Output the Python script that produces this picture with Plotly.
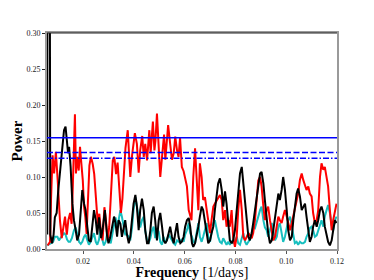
import plotly.graph_objects as go

# ---- data ----
freq_black = [0.0059, 0.0060, 0.0068, 0.0071, 0.0078, 0.0084, 0.0089, 0.0096, 0.0102, 0.0109,
              0.0117, 0.0125, 0.0131, 0.0137, 0.0141, 0.0145, 0.0151, 0.0158, 0.0164, 0.0171,
              0.0177, 0.0184, 0.0191, 0.0197, 0.0204, 0.0210, 0.0217, 0.0223, 0.0230, 0.0236,
              0.0243, 0.0250, 0.0256, 0.0263, 0.0271, 0.0278, 0.0286, 0.0294, 0.0300, 0.0306,
              0.0314, 0.0322, 0.0328, 0.0334, 0.0340, 0.0347, 0.0353, 0.0360, 0.0366, 0.0373,
              0.0380, 0.0386, 0.0393, 0.0399, 0.0406, 0.0412, 0.0419, 0.0425, 0.0432, 0.0439,
              0.0445, 0.0452, 0.0458, 0.0465, 0.0471, 0.0478, 0.0484, 0.0491, 0.0498, 0.0504,
              0.0511, 0.0517, 0.0524, 0.0530, 0.0537, 0.0543, 0.0550, 0.0557, 0.0563, 0.0570,
              0.0576, 0.0583, 0.0589, 0.0596, 0.0602, 0.0609, 0.0616, 0.0622, 0.0629, 0.0634,
              0.0641, 0.0647, 0.0654, 0.0660, 0.0667, 0.0673, 0.0680, 0.0687, 0.0693, 0.0700,
              0.0706, 0.0713, 0.0719, 0.0726, 0.0732, 0.0739, 0.0746, 0.0752, 0.0759, 0.0765,
              0.0772, 0.0778, 0.0785, 0.0791, 0.0798, 0.0805, 0.0811, 0.0818, 0.0825, 0.0831,
              0.0838, 0.0844, 0.0851, 0.0857, 0.0864, 0.0870, 0.0877, 0.0884, 0.0890, 0.0897,
              0.0903, 0.0910, 0.0916, 0.0923, 0.0929, 0.0936, 0.0943, 0.0949, 0.0956, 0.0963,
              0.0969, 0.0975, 0.0982, 0.0988, 0.0995, 0.1002, 0.1008, 0.1015, 0.1022, 0.1028,
              0.1034, 0.1041, 0.1047, 0.1054, 0.1061, 0.1067, 0.1074, 0.1080, 0.1087, 0.1093,
              0.1100, 0.1106, 0.1113, 0.1120, 0.1126, 0.1133, 0.1139, 0.1146, 0.1152, 0.1159,
              0.1165, 0.1172, 0.1179, 0.1185, 0.1192, 0.1198]
power_black = [0.02, 0.60, 0.60, 0.02, 0.008, 0.02, 0.044, 0.05, 0.08, 0.105,
               0.137, 0.165, 0.17, 0.15, 0.133, 0.142, 0.114, 0.063, 0.04, 0.026,
               0.012, 0.02, 0.054, 0.082, 0.063, 0.054, 0.03, 0.012, 0.01, 0.031,
               0.054, 0.04, 0.02, 0.044, 0.015, 0.03, 0.054, 0.02, 0.008, 0.015,
               0.03, 0.045, 0.036, 0.017, 0.04, 0.035, 0.017, 0.031, 0.04, 0.02,
               0.008, 0.017, 0.04, 0.063, 0.075, 0.059, 0.026, 0.054, 0.07, 0.054,
               0.026, 0.008, 0.008, 0.026, 0.05, 0.059, 0.04, 0.012, 0.04, 0.05,
               0.031, 0.012, 0.008, 0.012, 0.022, 0.031, 0.017, 0.008, 0.022, 0.036,
               0.017, 0.008, 0.01, 0.017, 0.031, 0.04, 0.043, 0.031, 0.008, 0.003,
               0.008, 0.017, 0.031, 0.045, 0.059, 0.054, 0.04, 0.022, 0.008, 0.012,
               0.022, 0.031, 0.054, 0.073, 0.091, 0.098, 0.082, 0.059, 0.08, 0.063,
               0.036, 0.012, 0.008, 0.012, 0.026, 0.054, 0.082, 0.105, 0.114, 0.091,
               0.059, 0.036, 0.017, 0.012, 0.022, 0.036, 0.054, 0.073, 0.091, 0.105,
               0.107, 0.091, 0.068, 0.04, 0.022, 0.008, 0.012, 0.026, 0.045, 0.063,
               0.077, 0.068, 0.082, 0.10, 0.082, 0.054, 0.026, 0.012, 0.017, 0.04,
               0.059, 0.077, 0.084, 0.073, 0.054, 0.059, 0.063, 0.045, 0.022, 0.01,
               0.017, 0.031, 0.04, 0.031, 0.04, 0.054, 0.059, 0.05, 0.031, 0.017,
               0.01, 0.005, 0.012, 0.026, 0.04, 0.036]

freq_red = [0.0060, 0.0070, 0.0074, 0.0080, 0.0086, 0.0093, 0.0101, 0.0109, 0.0116, 0.0122,
            0.0129, 0.0136, 0.0142, 0.0149, 0.0155, 0.0159, 0.0164, 0.0168, 0.0172, 0.0177,
            0.0183, 0.0188, 0.0193, 0.0199, 0.0204, 0.0209, 0.0214, 0.0218, 0.0225, 0.0231,
            0.0238, 0.0244, 0.0251, 0.0258, 0.0264, 0.0271, 0.0277, 0.0284, 0.0290, 0.0297,
            0.0303, 0.0310, 0.0317, 0.0323, 0.0330, 0.0336, 0.0341, 0.0349, 0.0355, 0.0361,
            0.0367, 0.0376, 0.0380, 0.0386, 0.0393, 0.0399, 0.0404, 0.0412, 0.0419, 0.0425,
            0.0433, 0.0439, 0.0445, 0.0452, 0.0461, 0.0466, 0.0475, 0.0481, 0.0485, 0.0491,
            0.0498, 0.0504, 0.0511, 0.0519, 0.0524, 0.0530, 0.0535, 0.0543, 0.0550, 0.0557,
            0.0563, 0.0570, 0.0576, 0.0582, 0.0589, 0.0596, 0.0602, 0.0609, 0.0616, 0.0622,
            0.0627, 0.0634, 0.0641, 0.0647, 0.0654, 0.0660, 0.0667, 0.0673, 0.0680, 0.0687,
            0.0693, 0.0700, 0.0706, 0.0713, 0.0719, 0.0726, 0.0732, 0.0739, 0.0746, 0.0752,
            0.0759, 0.0765, 0.0772, 0.0778, 0.0785, 0.0791, 0.0798, 0.0805, 0.0811, 0.0818,
            0.0825, 0.0831, 0.0838, 0.0844, 0.0851, 0.0857, 0.0864, 0.0870, 0.0877, 0.0884,
            0.0890, 0.0897, 0.0903, 0.0910, 0.0916, 0.0923, 0.0929, 0.0936, 0.0943, 0.0949,
            0.0956, 0.0963, 0.0969, 0.0975, 0.0982, 0.0988, 0.0995, 0.1002, 0.1008, 0.1015,
            0.1022, 0.1028, 0.1034, 0.1041, 0.1047, 0.1054, 0.1061, 0.1067, 0.1074, 0.1080,
            0.1087, 0.1093, 0.1100, 0.1106, 0.1113, 0.1120, 0.1126, 0.1133, 0.1139, 0.1146,
            0.1152, 0.1159, 0.1165, 0.1172, 0.1179, 0.1185, 0.1192, 0.1198]
power_red = [0.005, 0.01, 0.07, 0.13, 0.105, 0.135, 0.09, 0.04, 0.015, 0.03,
             0.045, 0.02, 0.04, 0.05, 0.035, 0.08, 0.16, 0.187, 0.105, 0.128,
             0.109, 0.142, 0.12, 0.095, 0.058, 0.044, 0.021, 0.058, 0.116, 0.128,
             0.118, 0.104, 0.072, 0.035, 0.049, 0.021, 0.012, 0.058, 0.04, 0.012,
             0.031, 0.081, 0.123, 0.128, 0.104, 0.12, 0.09, 0.05, 0.07, 0.10,
             0.14, 0.165, 0.132, 0.10, 0.13, 0.15, 0.161, 0.146, 0.106, 0.137,
             0.157, 0.128, 0.146, 0.123, 0.165, 0.133, 0.177, 0.137, 0.15, 0.188,
             0.133, 0.10, 0.128, 0.159, 0.124, 0.146, 0.172, 0.146, 0.124, 0.133,
             0.156, 0.137, 0.128, 0.154, 0.114, 0.108, 0.098, 0.087, 0.054, 0.045,
             0.04, 0.10, 0.14, 0.10, 0.054, 0.119, 0.10, 0.068, 0.072, 0.054,
             0.036, 0.022, 0.04, 0.059, 0.063, 0.068, 0.07, 0.075, 0.068, 0.04,
             0.054, 0.031, 0.04, 0.031, 0.054, 0.017, 0.003, 0.017, 0.054, 0.082,
             0.054, 0.017, 0.012, 0.017, 0.022, 0.019, 0.015, 0.022, 0.04, 0.07,
             0.095, 0.10, 0.087, 0.059, 0.04, 0.054, 0.059, 0.04, 0.022, 0.012,
             0.017, 0.031, 0.045, 0.04, 0.036, 0.045, 0.054, 0.045, 0.036, 0.026,
             0.036, 0.045, 0.054, 0.068, 0.077, 0.096, 0.105, 0.096, 0.087, 0.082,
             0.087, 0.077, 0.073, 0.05, 0.036, 0.04, 0.054, 0.10, 0.119, 0.11,
             0.114, 0.10, 0.087, 0.054, 0.026, 0.04, 0.054, 0.063]

freq_cyan = [0.0059, 0.0066, 0.0074, 0.0082, 0.0089, 0.0099, 0.0105, 0.0111, 0.0118, 0.0125,
             0.0131, 0.0137, 0.0143, 0.0149, 0.0156, 0.0164, 0.0171, 0.0177, 0.0184, 0.0191,
             0.0197, 0.0204, 0.0210, 0.0217, 0.0223, 0.0230, 0.0236, 0.0243, 0.0250, 0.0256,
             0.0263, 0.0269, 0.0276, 0.0282, 0.0289, 0.0295, 0.0302, 0.0309, 0.0315, 0.0322,
             0.0328, 0.0335, 0.0341, 0.0347, 0.0353, 0.0360, 0.0366, 0.0373, 0.0380, 0.0386,
             0.0393, 0.0399, 0.0406, 0.0412, 0.0419, 0.0425, 0.0432, 0.0439, 0.0445, 0.0452,
             0.0458, 0.0465, 0.0471, 0.0478, 0.0484, 0.0491, 0.0498, 0.0504, 0.0511, 0.0517,
             0.0524, 0.0530, 0.0537, 0.0543, 0.0550, 0.0557, 0.0563, 0.0570, 0.0576, 0.0583,
             0.0589, 0.0596, 0.0602, 0.0609, 0.0616, 0.0622, 0.0629, 0.0634, 0.0641, 0.0647,
             0.0654, 0.0660, 0.0667, 0.0673, 0.0680, 0.0687, 0.0693, 0.0700, 0.0706, 0.0713,
             0.0719, 0.0726, 0.0732, 0.0739, 0.0746, 0.0752, 0.0759, 0.0765, 0.0772, 0.0778,
             0.0785, 0.0791, 0.0798, 0.0805, 0.0811, 0.0818, 0.0825, 0.0831, 0.0838, 0.0844,
             0.0851, 0.0857, 0.0864, 0.0870, 0.0877, 0.0884, 0.0890, 0.0897, 0.0903, 0.0910,
             0.0916, 0.0923, 0.0929, 0.0936, 0.0943, 0.0949, 0.0956, 0.0963, 0.0969, 0.0975,
             0.0982, 0.0988, 0.0995, 0.1002, 0.1008, 0.1015, 0.1022, 0.1028, 0.1034, 0.1041,
             0.1047, 0.1054, 0.1061, 0.1067, 0.1074, 0.1080, 0.1087, 0.1093, 0.1100, 0.1106,
             0.1113, 0.1120, 0.1126, 0.1133, 0.1139, 0.1146, 0.1152, 0.1159, 0.1165, 0.1172,
             0.1179, 0.1185, 0.1192, 0.1198]
power_cyan = [0.005, 0.006, 0.008, 0.01, 0.017, 0.017, 0.012, 0.015, 0.019, 0.022,
              0.02, 0.013, 0.01, 0.01, 0.015, 0.026, 0.03, 0.022, 0.01, 0.007,
              0.01, 0.017, 0.02, 0.012, 0.006, 0.01, 0.017, 0.022, 0.01, 0.006,
              0.013, 0.03, 0.013, 0.005, 0.01, 0.022, 0.013, 0.008, 0.02, 0.035,
              0.044, 0.03, 0.045, 0.054, 0.045, 0.03, 0.02, 0.02, 0.017, 0.012,
              0.03, 0.055, 0.072, 0.06, 0.04, 0.03, 0.04, 0.045, 0.025, 0.012,
              0.008, 0.015, 0.025, 0.031, 0.015, 0.029, 0.024, 0.01, 0.006, 0.017,
              0.01, 0.012, 0.02, 0.017, 0.012, 0.008, 0.006, 0.012, 0.01, 0.01,
              0.014, 0.01, 0.02, 0.026, 0.036, 0.022, 0.017, 0.01, 0.008, 0.022,
              0.036, 0.017, 0.01, 0.017, 0.026, 0.036, 0.017, 0.01, 0.022, 0.036,
              0.04, 0.026, 0.017, 0.01, 0.008, 0.015, 0.01, 0.006, 0.01, 0.006,
              0.01, 0.008, 0.01, 0.017, 0.008, 0.006, 0.015, 0.022, 0.01, 0.006,
              0.01, 0.013, 0.022, 0.031, 0.029, 0.036, 0.045, 0.054, 0.059, 0.04,
              0.03, 0.026, 0.017, 0.026, 0.036, 0.026, 0.012, 0.017, 0.031, 0.036,
              0.022, 0.01, 0.017, 0.031, 0.04, 0.045, 0.031, 0.017, 0.008, 0.01,
              0.006, 0.01, 0.008, 0.008, 0.01, 0.017, 0.022, 0.029, 0.031, 0.026,
              0.017, 0.019, 0.026, 0.036, 0.04, 0.031, 0.045, 0.054, 0.061, 0.05,
              0.033, 0.026, 0.04, 0.045]

threshold_solid = 0.1546
threshold_dash = 0.134
threshold_dashdot = 0.126

x_ticks = [0.02, 0.04, 0.06, 0.08, 0.10, 0.12]
y_ticks = [0.00, 0.05, 0.10, 0.15, 0.20, 0.25, 0.30]
x_range = [0.0058, 0.12]
y_range = [0.0, 0.30]

SERIF = "Liberation Serif, DejaVu Serif, serif"

fig = go.Figure()
fig.add_trace(go.Scatter(x=freq_cyan, y=power_cyan, mode="lines",
                         line=dict(color="#17bfbf", width=2)))
fig.add_trace(go.Scatter(x=freq_red, y=power_red, mode="lines",
                         line=dict(color="#ff0000", width=2)))
fig.add_trace(go.Scatter(x=freq_black, y=power_black, mode="lines",
                         line=dict(color="#000000", width=2)))

for val, dash in [(threshold_solid, "solid"), (threshold_dash, "6px,2.5px"),
                  (threshold_dashdot, "6px,2px,1.5px,2px")]:
    fig.add_shape(type="line", xref="paper", yref="y", x0=0, x1=1, y0=val, y1=val,
                  line=dict(color="#0000ff", width=1.5, dash=dash), layer="above")

# top border (dark)
fig.add_shape(type="line", xref="paper", yref="paper", x0=0, x1=1, y0=1, y1=1,
              line=dict(color="#222222", width=1.2))

fig.update_layout(
    width=374, height=280,
    margin=dict(l=47, r=37, t=33, b=31, autoexpand=False),
    paper_bgcolor="white", plot_bgcolor="white",
    showlegend=False,
    font=dict(family=SERIF, color="black", size=8),
)
fig.update_xaxes(
    range=x_range, tickvals=x_ticks, tickformat=".2f",
    showgrid=False, zeroline=False, automargin=False,
    showline=True, linecolor="#9a9a9a", linewidth=2, mirror=True,
    ticks="outside", ticklen=3, tickcolor="#555555", tickwidth=1,
    tickfont=dict(family=SERIF, size=8, color="#222222"),
    title=dict(text="<b>Frequency</b> [1/days]", font=dict(family=SERIF, size=14),
               standoff=1),
    layer="below traces",
)
fig.update_yaxes(
    range=y_range, tickvals=y_ticks, tickformat=".2f",
    showgrid=False, zeroline=False, automargin=False,
    showline=True, linecolor="#9a9a9a", linewidth=2, mirror=True,
    ticks="outside", ticklen=3, tickcolor="#222222", tickwidth=1,
    tickfont=dict(family=SERIF, size=8, color="#222222"),
    title=dict(text="<b>Power</b>", font=dict(family=SERIF, size=15), standoff=0),
    layer="below traces",
)

fig.write_html("out.html", config={"displayModeBar": False},
               post_script="document.body.style.margin='0';document.body.style.padding='0';")
